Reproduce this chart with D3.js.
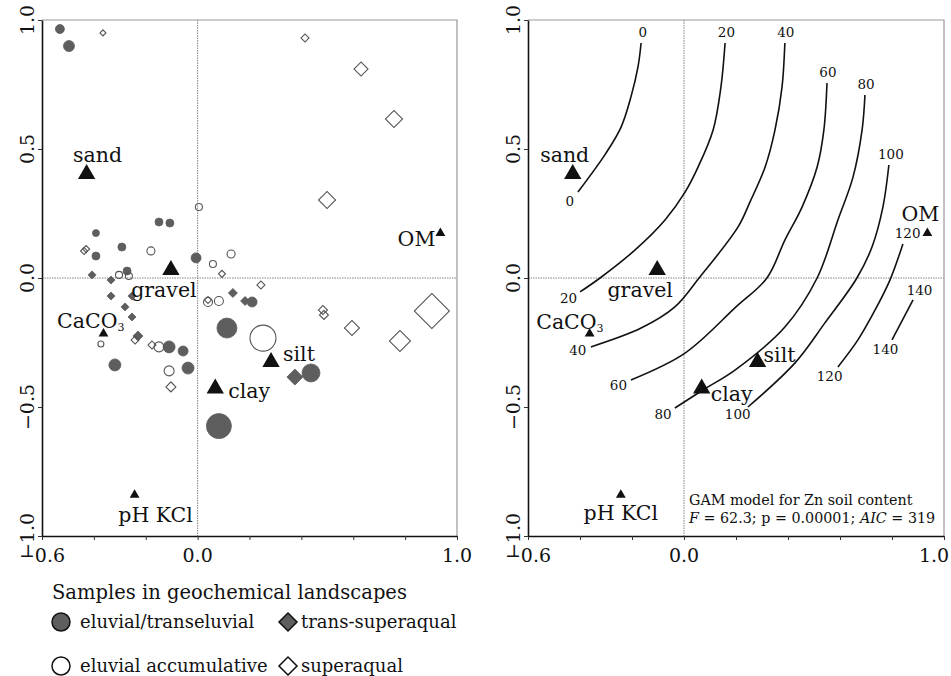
<!DOCTYPE html>
<html>
<head>
<meta charset="utf-8">
<script src="https://cdn.jsdelivr.net/npm/d3@7"></script>
<style>
body { margin: 0; background: #fff; }
svg text { font-family: "DejaVu Serif", serif; fill: #111; }
</style>
</head>
<body>
<svg width="951" height="676"></svg>
<script>
// samples: [axis 1, axis 2, marker size]
var eluvialTrans = [
	[-0.531, 0.965, 4.5], [-0.496, 0.899, 5.5], [-0.149, 0.217, 4], [-0.107, 0.213, 4],
	[-0.392, 0.174, 3.5], [-0.292, 0.120, 4], [-0.392, 0.085, 4], [-0.006, 0.078, 5],
	[-0.272, 0.027, 4], [-0.110, -0.267, 6], [-0.056, -0.283, 5], [-0.037, -0.349, 6],
	[-0.319, -0.337, 6], [0.113, -0.194, 10], [0.082, -0.574, 12.5], [0.210, -0.093, 5],
	[0.437, -0.368, 9]
];
var eluvialAccum = [
	[0.005, 0.275, 3.5], [-0.180, 0.105, 4], [0.059, 0.054, 3.5], [0.129, 0.093, 4],
	[-0.303, 0.012, 3.5], [-0.265, 0.008, 3.5], [0.040, -0.093, 4.5], [0.082, -0.089, 4.5],
	[-0.149, -0.267, 5], [-0.110, -0.360, 5], [-0.373, -0.256, 3], [0.252, -0.233, 13]
];
var transSuperaqual = [
	[-0.407, 0.012, 4], [-0.334, -0.008, 4], [-0.334, -0.070, 4], [-0.253, -0.070, 4],
	[-0.280, -0.112, 4], [-0.253, -0.151, 4], [-0.230, -0.225, 5], [0.136, -0.058, 4.5],
	[0.183, -0.089, 4.5], [0.375, -0.384, 8]
];
var superaqual = [
	[-0.365, 0.950, 3], [-0.438, 0.105, 3.5], [-0.430, 0.112, 3.5], [0.094, 0.016, 3.5],
	[0.040, -0.085, 3.5], [-0.241, -0.240, 4], [-0.176, -0.260, 4], [-0.103, -0.422, 5],
	[0.244, -0.027, 4], [0.414, 0.930, 4], [0.630, 0.810, 7], [0.757, 0.616, 8.5],
	[0.499, 0.302, 8.5], [0.483, -0.124, 4.5], [0.487, -0.143, 4.5], [0.595, -0.194, 7.5],
	[0.780, -0.244, 10.5], [0.903, -0.128, 17.5]
];

// environmental variables
var envNames = ["sand", "gravel", "CaCO3", "silt", "clay", "OM", "pH KCl"];
var envX = [-0.428, -0.103, -0.363, 0.283, 0.068, 0.936, -0.243];
var envY = [0.403, 0.031, -0.216, -0.326, -0.428, 0.174, -0.841];
var envWeight = [2, 2, 1, 2, 2, 1, 1];

// GAM surface for Zn (ordisurf contours)
var contourLevels = [0, 20, 40, 60, 80, 100, 120, 140];
var contourLines = [
	[[-0.165, 0.911], [-0.177, 0.818], [-0.204, 0.702], [-0.242, 0.585], [-0.300, 0.484], [-0.408, 0.333]],
	[[0.158, 0.911], [0.142, 0.740], [0.112, 0.574], [0.054, 0.430], [0.004, 0.333], [-0.073, 0.225], [-0.188, 0.109], [-0.323, 0.0], [-0.400, -0.054]],
	[[0.388, 0.911], [0.377, 0.740], [0.350, 0.574], [0.312, 0.430], [0.254, 0.295], [0.208, 0.198], [0.058, 0.0], [-0.035, -0.112], [-0.165, -0.194], [-0.358, -0.267]],
	[[0.550, 0.756], [0.538, 0.574], [0.512, 0.430], [0.454, 0.275], [0.388, 0.147], [0.319, 0.0], [0.200, -0.112], [0.004, -0.291], [-0.204, -0.395]],
	[[0.696, 0.709], [0.685, 0.574], [0.650, 0.391], [0.592, 0.225], [0.512, 0.0], [0.388, -0.190], [0.196, -0.357], [0.073, -0.434], [-0.035, -0.504]],
	[[0.788, 0.438], [0.765, 0.275], [0.723, 0.120], [0.665, 0.0], [0.542, -0.174], [0.427, -0.329], [0.246, -0.500]],
	[[0.842, 0.132], [0.792, -0.008], [0.735, -0.124], [0.669, -0.240], [0.592, -0.345]],
	[[0.881, -0.085], [0.800, -0.240]]
];

var xTicks = [-0.6, -0.4, -0.2, 0.0, 0.2, 0.4, 0.6, 0.8, 1.0];
var xTickLabels = [-0.6, 0.0, 1.0];
var yTicks = [-1.0, -0.5, 0.0, 0.5, 1.0];

var legendTitle = "Samples in geochemical landscapes";
var legendNames = ["eluvial/transeluvial", "eluvial accumulative", "trans-superaqual", "superaqual"];

// label offsets (px) from each triangle, per panel
var labelLayout = {
	left: {
		"sand": [11, -19, "middle"], "gravel": [-7, 20, "middle"], "CaCO3": [21, -13, "end"],
		"silt": [12, -8, "start"], "clay": [13, 2, "start"], "OM": [-5, 6, "end"], "pH KCl": [21, 20, "middle"]
	},
	right: {
		"sand": [-8, -19, "middle"], "gravel": [-17, 20, "middle"], "CaCO3": [14, -12, "end"],
		"silt": [6, -7, "start"], "clay": [9, 5, "start"], "OM": [-7, -19, "middle"], "pH KCl": [0, 18, "middle"]
	}
};

var fillGray = "#5e5e5e";
var lineGray = "#555";
var plotTop = 20, plotBottom = 536;

var svg = d3.select("svg");
var size = d3.scaleIdentity();

function fmt(d) {
	return d < 0 ? "\u2212" + Math.abs(d).toFixed(1) : d.toFixed(1);
}

function diamond(h) {
	return d3.symbol().type(d3.symbolSquare).size(2 * h * h)();
}

function drawFrame(g, x, y) {
	// zero lines
	g.append("line")
		.attr("x1", x(0)).attr("x2", x(0))
		.attr("y1", y(1)).attr("y2", y(-1))
		.attr("stroke", "#666").attr("stroke-width", 0.8).attr("stroke-dasharray", "1.5,1");
	g.append("line")
		.attr("x1", x(-0.6)).attr("x2", x(1))
		.attr("y1", y(0)).attr("y2", y(0))
		.attr("stroke", "#666").attr("stroke-width", 0.8).attr("stroke-dasharray", "1.5,1");

	// top and right borders are lighter
	g.append("path")
		.attr("d", "M" + x(-0.6) + "," + y(1) + "H" + x(1) + "V" + y(-1))
		.attr("fill", "none").attr("stroke", "#999").attr("stroke-width", 1.2);

	var ax = g.append("g")
		.attr("transform", "translate(0," + y(-1) + ")")
		.call(d3.axisBottom(x).tickValues(xTicks).tickSize(4).tickSizeOuter(0).tickFormat(""));
	var ay = g.append("g")
		.attr("transform", "translate(" + x(-0.6) + ",0)")
		.call(d3.axisLeft(y).tickValues(yTicks).tickSize(4).tickSizeOuter(0).tickFormat(""));
	[ax, ay].forEach(function(a) {
		a.select(".domain").attr("stroke", "#111").attr("stroke-width", 1.6);
		a.selectAll(".tick line").attr("stroke", "#333");
	});

	g.selectAll(".xlab")
		.data(xTickLabels)
		.enter().append("text")
		.attr("x", function(d) { return Math.min(x(d), 934); })
		.attr("y", y(-1) + 19)
		.attr("dy", "0.35em")
		.attr("text-anchor", "middle")
		.style("font-size", "19px")
		.text(fmt);

	g.selectAll(".ylab")
		.data(yTicks)
		.enter().append("text")
		.attr("transform", function(d) { return "translate(" + (x(-0.6) - 15) + "," + y(d) + ") rotate(-90)"; })
		.attr("dy", "0.35em")
		.attr("text-anchor", "middle")
		.style("font-size", "19px")
		.text(fmt);
}

function drawEnv(g, x, y, layout) {
	envNames.forEach(function(name, i) {
		var cx = x(envX[i]), cy = y(envY[i]);
		var big = envWeight[i] > 1;
		g.append("path")
			.attr("d", d3.symbol().type(d3.symbolTriangle).size(big ? 130 : 42)())
			.attr("transform", "translate(" + cx + "," + cy + ")")
			.attr("fill", "#111");
		var off = layout[name];
		var t = g.append("text")
			.attr("x", cx + off[0])
			.attr("y", cy + off[1])
			.attr("dy", "0.35em")
			.attr("text-anchor", off[2])
			.style("font-size", "20.5px");
		if (name == "CaCO3") {
			t.append("tspan").text("CaCO");
			t.append("tspan").attr("dy", "0.3em").style("font-size", "11px").text("3");
		} else {
			t.text(name);
		}
	});
}

function makeScales(left, right) {
	return {
		x: d3.scaleLinear().domain([-0.6, 1.0]).range([left, right]),
		y: d3.scaleLinear().domain([-1.0, 1.0]).range([plotBottom, plotTop])
	};
}

// ---- left panel: samples ----
var sL = makeScales(42, 457);
var gL = svg.append("g");
drawFrame(gL, sL.x, sL.y);

var pts = gL.append("g");
pts.selectAll(".et").data(eluvialTrans).enter().append("circle")
	.attr("cx", function(d) { return sL.x(d[0]); })
	.attr("cy", function(d) { return sL.y(d[1]); })
	.attr("r", function(d) { return size(d[2]); })
	.attr("fill", fillGray).attr("stroke", fillGray).attr("stroke-width", 0.8);
pts.selectAll(".ea").data(eluvialAccum).enter().append("circle")
	.attr("cx", function(d) { return sL.x(d[0]); })
	.attr("cy", function(d) { return sL.y(d[1]); })
	.attr("r", function(d) { return size(d[2]); })
	.attr("fill", "none").attr("stroke", lineGray).attr("stroke-width", 1.1);
pts.selectAll(".ts").data(transSuperaqual).enter().append("path")
	.attr("d", function(d) { return diamond(size(d[2])); })
	.attr("transform", function(d) { return "translate(" + sL.x(d[0]) + "," + sL.y(d[1]) + ") rotate(45)"; })
	.attr("fill", fillGray).attr("stroke", fillGray).attr("stroke-width", 0.8);
pts.selectAll(".sa").data(superaqual).enter().append("path")
	.attr("d", function(d) { return diamond(size(d[2])); })
	.attr("transform", function(d) { return "translate(" + sL.x(d[0]) + "," + sL.y(d[1]) + ") rotate(45)"; })
	.attr("fill", "none").attr("stroke", lineGray).attr("stroke-width", 1.1);

drawEnv(gL, sL.x, sL.y, labelLayout.left);

// ---- right panel: Zn surface ----
var sR = makeScales(528, 944);
var gR = svg.append("g");
drawFrame(gR, sR.x, sR.y);

var line = d3.line()
	.x(function(d) { return sR.x(d[0]); })
	.y(function(d) { return sR.y(d[1]); })
	.curve(d3.curveCatmullRom);

contourLines.forEach(function(pts, i) {
	gR.append("path")
		.attr("d", line(pts))
		.attr("fill", "none")
		.attr("stroke", "#111")
		.attr("stroke-width", 1.6);

	// label both ends, a little beyond the line
	[[pts[0], pts[1]], [pts[pts.length - 1], pts[pts.length - 2]]].forEach(function(e) {
		var px = sR.x(e[0][0]), py = sR.y(e[0][1]);
		var qx = sR.x(e[1][0]), qy = sR.y(e[1][1]);
		var len = Math.sqrt((px - qx) * (px - qx) + (py - qy) * (py - qy));
		gR.append("text")
			.attr("x", px + (px - qx) / len * 14)
			.attr("y", py + (py - qy) / len * 11)
			.attr("dy", "0.35em")
			.attr("text-anchor", "middle")
			.style("font-size", "13.5px")
			.text(contourLevels[i]);
	});
});

drawEnv(gR, sR.x, sR.y, labelLayout.right);

gR.append("text")
	.attr("x", 689).attr("y", 505)
	.style("font-size", "14.3px")
	.text("GAM model for Zn soil content");
var stat = gR.append("text")
	.attr("x", 689).attr("y", 523)
	.style("font-size", "14.3px");
stat.append("tspan").style("font-style", "italic").text("F");
stat.append("tspan").text(" = 62.3; p = 0.00001; ");
stat.append("tspan").style("font-style", "italic").text("AIC");
stat.append("tspan").text(" = 319");

// ---- legend ----
var leg = svg.append("g");
leg.append("text")
	.attr("x", 52).attr("y", 592).attr("dy", "0.35em")
	.style("font-size", "19.5px")
	.text(legendTitle);

var legItems = [
	{ col: 0, row: 0, shape: "circle", fill: fillGray },
	{ col: 0, row: 1, shape: "circle", fill: "#fff" },
	{ col: 1, row: 0, shape: "diamond", fill: fillGray },
	{ col: 1, row: 1, shape: "diamond", fill: "#fff" }
];
legItems.forEach(function(it, i) {
	var cx = it.col == 0 ? 61 : 288;
	var cy = 622 + it.row * 44;
	if (it.shape == "circle") {
		leg.append("circle").attr("cx", cx).attr("cy", cy).attr("r", 9)
			.attr("fill", it.fill).attr("stroke", "#111").attr("stroke-width", 1.5);
	} else {
		leg.append("path").attr("d", diamond(9))
			.attr("transform", "translate(" + cx + "," + cy + ") rotate(45)")
			.attr("fill", it.fill).attr("stroke", "#111").attr("stroke-width", 1.5);
	}
	leg.append("text")
		.attr("x", cx + (it.shape == "circle" ? 19 : 13)).attr("y", cy).attr("dy", "0.35em")
		.style("font-size", "18px")
		.text(legendNames[i]);
});
</script>
</body>
</html>
